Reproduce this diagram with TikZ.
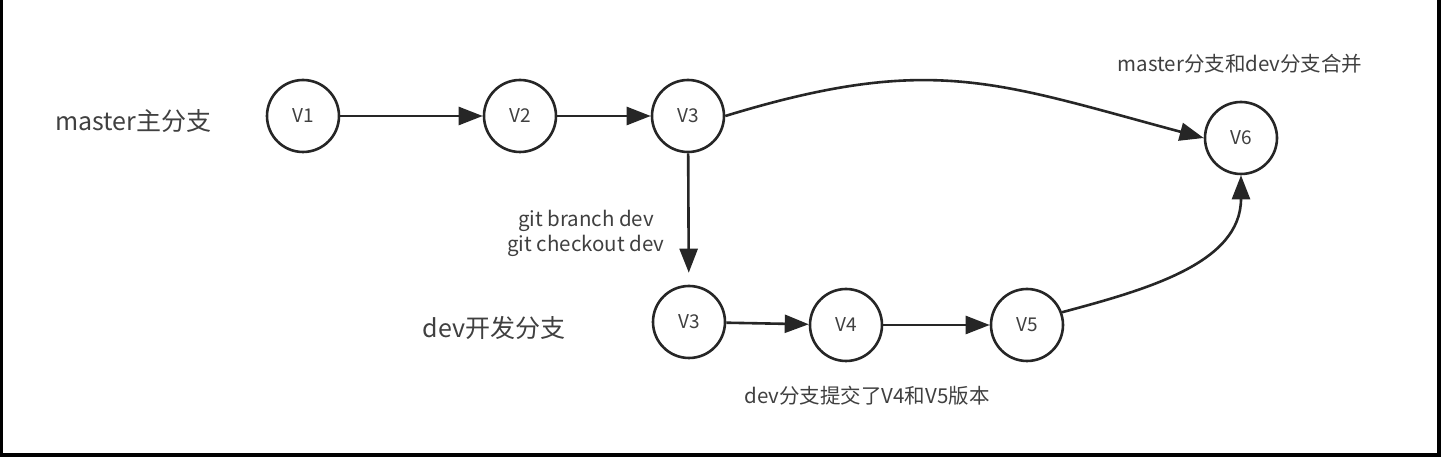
\documentclass[tikz,border=0pt]{standalone}
\usepackage{fontspec}
\setmainfont{Noto Sans CJK SC}
\usepackage{tikz}
\usetikzlibrary{positioning,arrows.meta}
\usepackage{xcolor}

\definecolor{linegray}{HTML}{262626}
\definecolor{textgray}{HTML}{404040}

\begin{document}
\begin{tikzpicture}[
    x=1pt, y=1pt,
    >={Triangle[length=24pt,width=18pt]},
    version/.style={circle, draw=linegray, line width=2.6pt, minimum size=72pt,
        inner sep=0pt, text=textgray, font=\fontsize{19}{22}\selectfont},
    branch/.style={text=textgray, font=\fontsize{25}{30}\selectfont},
    note/.style={text=textgray, font=\fontsize{20.5}{25}\selectfont, align=center},
    link/.style={->, draw=linegray, line width=2.6pt}
]

% page and frame
\fill[white] (0,0) rectangle (1441,457);
\useasboundingbox (0,0) rectangle (1441,457);
\fill[black] (0,0) rectangle (2.5,457);
\fill[black] (1437,0) rectangle (1441,457);
\fill[black] (0,0) rectangle (1441,4);

% master branch
\node[branch] (mastername) at (133,336) {master主分支};
\node[version] (v1) at (303,341) {V1};
\node[version] (v2) at (520,341) {V2};
\node[version] (v3) at (688,341) {V3};
\node[version] (v6) at (1241,319) {V6};

% dev branch
\node[branch] (devname) at (494,129) {dev开发分支};
\node[version] (d3) at (689,135) {V3};
\node[version] (d4) at (846,132) {V4};
\node[version] (d5) at (1027,132) {V5};

\node[note] (gitcmd) at (586,224) {git branch dev\\git checkout dev};
\node[note] (mergenote) at (1240,393) {master分支和dev分支合并};
\node[note] (commitnote) at (867,61) {dev分支提交了V4和V5版本};

\draw[link] (v1) -- (v2);
\draw[link] (v2) -- (v3);
\draw[link, shorten >=12pt] (v3) -- (d3);
\draw[link] (d3) -- (d4);
\draw[link] (d4) -- (d5);

\draw[link] (v3.east) to[out=17,in=165,looseness=1.15] (v6.west);
\draw[link] (d5.20) to[out=15,in=-90] (v6.south);

\end{tikzpicture}
\end{document}
